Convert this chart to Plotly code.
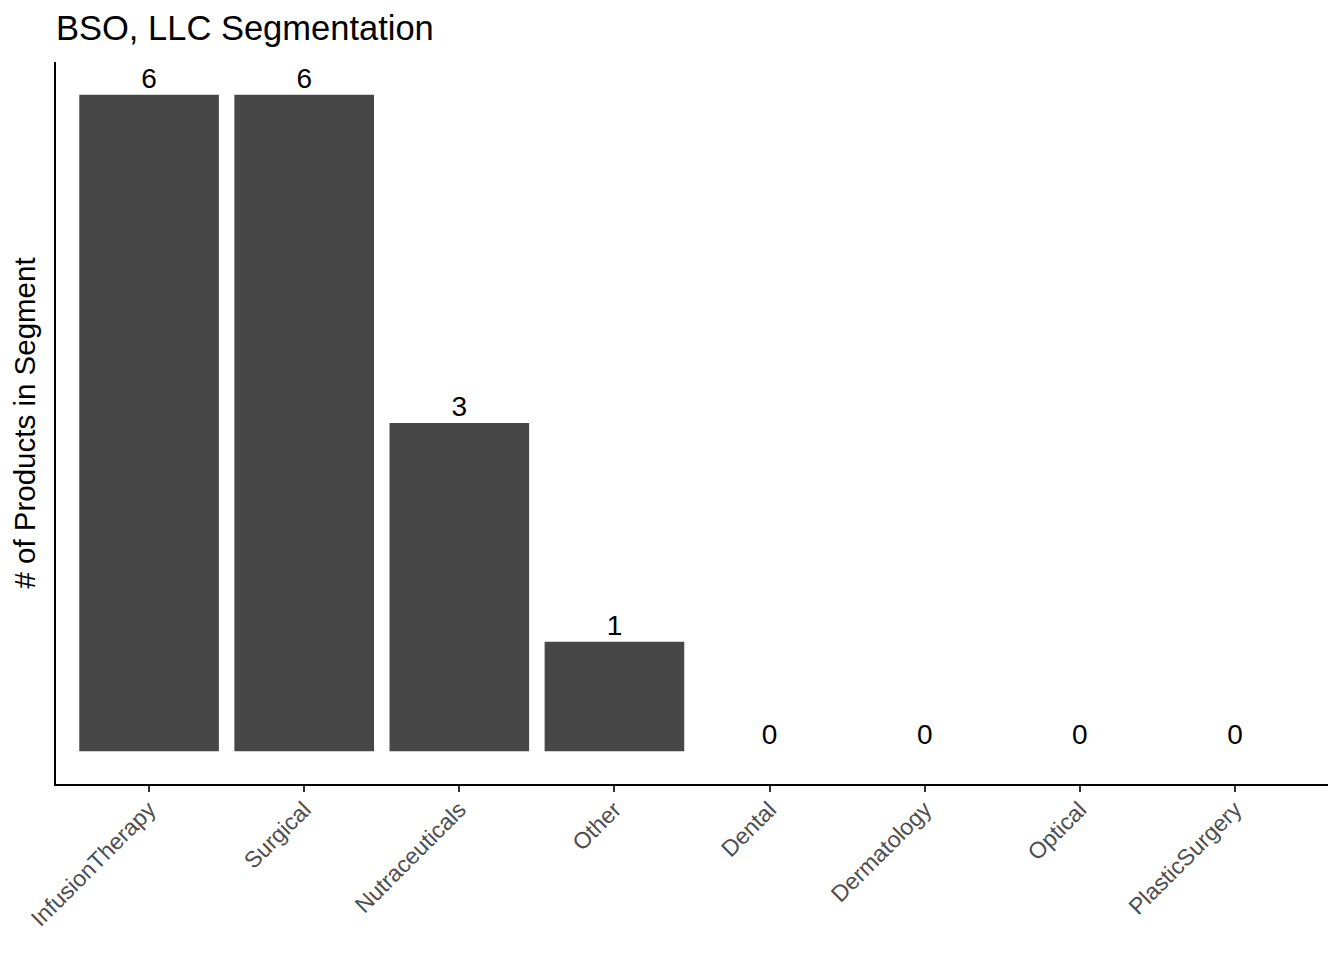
import plotly.graph_objects as go

segments = ['InfusionTherapy', 'Surgical', 'Nutraceuticals', 'Other',
            'Dental', 'Dermatology', 'Optical', 'PlasticSurgery']
counts = [6, 6, 3, 1, 0, 0, 0, 0]

bar_color = '#474747'
font_family = 'Liberation Sans, Arial, sans-serif'

# страница выводится с отступом body 8px, поэтому фигура чуть меньше окна
W, H = 1336, 952

fig = go.Figure()

# столбцы
fig.add_trace(go.Bar(
    x=segments, y=counts,
    marker=dict(color=bar_color, line=dict(width=0)),
    width=0.9,
    hoverinfo='x+y',
))

# подписи значений над столбцами
fig.add_trace(go.Scatter(
    x=segments, y=counts,
    mode='text',
    text=[str(c) for c in counts],
    textposition='top center',
    textfont=dict(size=28, color='black', family=font_family),
    hoverinfo='skip',
))

fig.update_layout(
    width=W, height=H,
    paper_bgcolor='white', plot_bgcolor='white',
    showlegend=False,
    font=dict(family=font_family, color='black'),
    margin=dict(l=48, r=16, t=54, b=176),
    title=dict(
        text='BSO, LLC Segmentation',
        font=dict(size=34.5, color='black', family=font_family),
        x=48 / W, xanchor='left',
        y=1 - 20 / H, yanchor='middle',
    ),
)

fig.update_xaxes(
    type='category',
    range=[-0.6, len(segments) - 0.4],
    showline=True, linecolor='black', linewidth=2,
    ticks='outside', ticklen=6, tickwidth=2, tickcolor='#333333',
    tickangle=-45, ticklabelstandoff=-5,
    tickfont=dict(size=23, color='#4d4d4d', family=font_family),
    showgrid=False, zeroline=False,
)

fig.update_yaxes(
    range=[-0.3, 6.3],
    showline=True, linecolor='black', linewidth=2,
    showticklabels=False, ticks='',
    showgrid=False, zeroline=False,
    title=dict(text='# of Products in Segment',
               font=dict(size=29.5, color='black', family=font_family),
               standoff=12),
)

fig.write_html("out.html")
